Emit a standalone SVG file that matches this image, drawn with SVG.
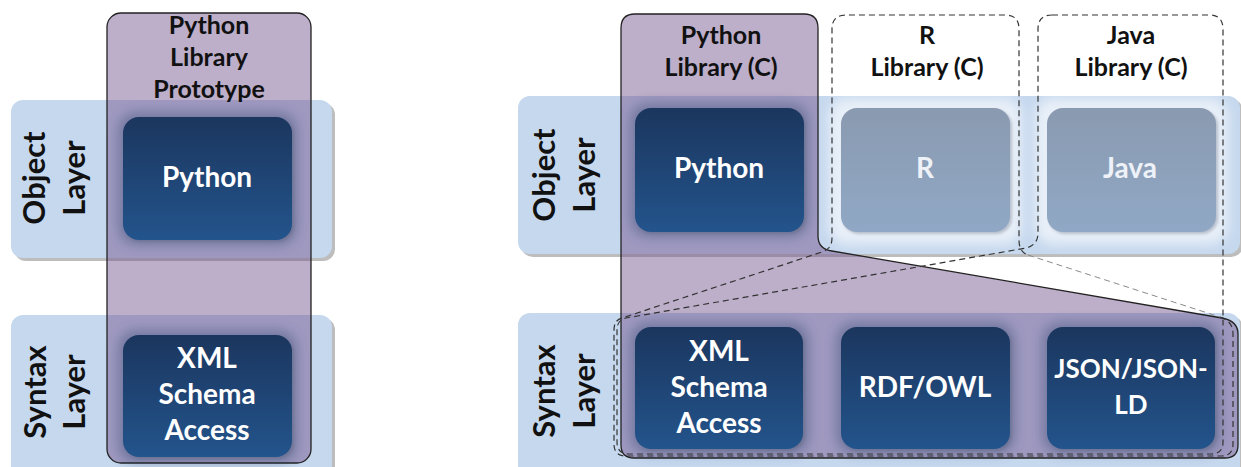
<svg xmlns="http://www.w3.org/2000/svg" width="1241" height="467" viewBox="0 0 1241 467">
<defs>
<linearGradient id="boxGrad" x1="0" y1="0" x2="0" y2="1">
<stop offset="0" stop-color="#1b365e"/>
<stop offset="1" stop-color="#23548c"/>
</linearGradient>
<linearGradient id="fadeGrad" x1="0" y1="0" x2="0" y2="1">
<stop offset="0" stop-color="#8a9ab0"/>
<stop offset="1" stop-color="#90a8c5"/>
</linearGradient>
<filter id="blur" x="-30%" y="-30%" width="160%" height="160%">
<feGaussianBlur stdDeviation="6"/>
</filter>
<filter id="blurS" x="-30%" y="-30%" width="160%" height="160%">
<feGaussianBlur stdDeviation="1.5"/>
</filter>
<style>
.band{fill:#c6d8ee}
.bandShadow{fill:#bdbdbd}
.purple{fill:rgb(114,82,141);fill-opacity:.47;stroke:#222;stroke-width:1.3}
.halo{fill:#1e3761;opacity:.33;filter:url(#blur)}
.glow{fill:#ffffff;opacity:.6;filter:url(#blur)}
.boxShadow{fill:#5a6478;opacity:.35;filter:url(#blurS)}
.box{fill:url(#boxGrad)}
.fbox{fill:url(#fadeGrad)}
.dash{fill:none;stroke:#333;stroke-width:1.2;stroke-dasharray:6 4}
.dashLight{fill:none;stroke:#8a8a8a;stroke-width:1;stroke-dasharray:6 4}
text{font-family:Lato,"Open Sans","Liberation Sans",sans-serif;font-weight:bold;text-anchor:middle}
.title{font-size:25px;fill:#111}
.layer{font-size:31px;fill:#111}
.lbl{font-size:28px;fill:#ffffff}
.flbl{font-size:28px;fill:#eef2f8}
.narrow{font-size:26px}
</style>
</defs>

<!-- LEFT DIAGRAM -->
<g id="left-object-layer">
<rect class="bandShadow" x="14" y="103" width="321" height="158" rx="12"/>
<rect class="band" x="11" y="100" width="321" height="158" rx="12"/>
<text class="layer" transform="translate(45,178) rotate(-90)">Object</text>
<text class="layer" transform="translate(85,178) rotate(-90)">Layer</text>
</g>
<g id="left-syntax-layer">
<rect class="bandShadow" x="14" y="318" width="321" height="170" rx="12"/>
<rect class="band" x="11" y="315" width="321" height="170" rx="12"/>
<text class="layer" transform="translate(46,392) rotate(-90)">Syntax</text>
<text class="layer" transform="translate(85,392) rotate(-90)">Layer</text>
</g>
<g id="left-python-library-prototype">
<rect class="purple" x="107" y="13" width="204" height="450" rx="14"/>
<text class="title" x="209" y="34">Python</text>
<text class="title" x="209" y="66">Library</text>
<text class="title" x="209" y="98">Prototype</text>
</g>
<g id="left-python">
<rect class="halo" x="118" y="112" width="179" height="133" rx="18"/>
<rect class="boxShadow" x="125" y="119" width="169" height="123" rx="16"/>
<rect class="box" x="123" y="117" width="169" height="123" rx="16"/>
<text class="lbl" x="207" y="187">Python</text>
</g>
<g id="left-xml">
<rect class="halo" x="118" y="330" width="179" height="133" rx="18"/>
<rect class="boxShadow" x="125" y="337" width="169" height="122" rx="16"/>
<rect class="box" x="123" y="335" width="169" height="122" rx="16"/>
<text class="lbl" x="207" y="368">XML</text>
<text class="lbl" x="207" y="404">Schema</text>
<text class="lbl" x="207" y="440">Access</text>
</g>

<!-- RIGHT DIAGRAM -->
<g id="right-object-layer">
<rect class="bandShadow" x="521" y="99" width="722" height="158" rx="12"/>
<rect class="band" x="518" y="96" width="722" height="158" rx="12"/>
<text class="layer" transform="translate(555,175) rotate(-90)">Object</text>
<text class="layer" transform="translate(595,175) rotate(-90)">Layer</text>
</g>
<g id="right-syntax-layer">
<rect class="bandShadow" x="521" y="316" width="722" height="170" rx="12"/>
<rect class="band" x="518" y="313" width="722" height="170" rx="12"/>
<text class="layer" transform="translate(555,391) rotate(-90)">Syntax</text>
<text class="layer" transform="translate(595,391) rotate(-90)">Layer</text>
</g>
<g id="right-python-library">
<path class="purple" d="M621 28 Q621 14 635 14 H804 Q818 14 818 28 V236 Q818 249 832 251 L1222 318 Q1238 321 1238 334 V445 Q1238 458 1225 458 H634 Q621 458 621 445 Z"/>
<text class="title" x="721" y="44">Python</text>
<text class="title" x="721" y="76">Library (C)</text>
</g>
<g id="right-python">
<rect class="halo" x="630" y="103" width="179" height="134" rx="18"/>
<rect class="boxShadow" x="637" y="110" width="169" height="124" rx="16"/>
<rect class="box" x="635" y="108" width="169" height="124" rx="16"/>
<text class="lbl" x="719" y="178">Python</text>
</g>
<g id="right-r">
<rect class="glow" x="829" y="98" width="193" height="146" rx="18"/>
<rect class="boxShadow" x="843" y="110" width="169" height="124" rx="16" opacity=".2"/>
<rect class="fbox" x="841" y="108" width="169" height="124" rx="16"/>
<text class="flbl" x="925" y="178">R</text>
</g>
<g id="right-java">
<rect class="glow" x="1035" y="98" width="193" height="146" rx="18"/>
<rect class="boxShadow" x="1049" y="110" width="169" height="124" rx="16" opacity=".2"/>
<rect class="fbox" x="1047" y="108" width="169" height="124" rx="16"/>
<text class="flbl" x="1130" y="178">Java</text>
</g>
<g id="right-xml">
<rect class="halo" x="630" y="322" width="179" height="132" rx="18"/>
<rect class="boxShadow" x="637" y="329" width="168" height="122" rx="16"/>
<rect class="box" x="635" y="327" width="168" height="122" rx="16"/>
<text class="lbl" x="719" y="361">XML</text>
<text class="lbl" x="719" y="397">Schema</text>
<text class="lbl" x="719" y="433">Access</text>
</g>
<g id="right-rdf">
<rect class="halo" x="836" y="322" width="179" height="132" rx="18"/>
<rect class="boxShadow" x="843" y="329" width="169" height="122" rx="16"/>
<rect class="box" x="841" y="327" width="169" height="122" rx="16"/>
<text class="lbl" x="925" y="397">RDF/OWL</text>
</g>
<g id="right-json">
<rect class="halo" x="1042" y="322" width="178" height="132" rx="18"/>
<rect class="boxShadow" x="1049" y="329" width="168" height="122" rx="16"/>
<rect class="box" x="1047" y="327" width="168" height="122" rx="16"/>
<text class="lbl narrow" x="1131" y="378">JSON/JSON-</text>
<text class="lbl narrow" x="1131" y="414">LD</text>
</g>
<g id="right-r-library">
<path class="dash" d="M1220 317 Q1233 321 1233 334 V444 Q1233 456 1221 456 H626 Q614 456 614 444 V330 Q614 320 622 318 L822 252 Q832 249 832 238 V29 Q832 15 846 15 H1005 Q1019 15 1019 29 V240 Q1019 252 1028 255"/>
<path class="dashLight" d="M1028 255 L1220 317"/>
<text class="title" x="927" y="44">R</text>
<text class="title" x="927" y="76">Library (C)</text>
</g>
<g id="right-java-library">
<path class="dash" d="M1052 15 H1209 Q1223 15 1223 29 V442 Q1223 454 1211 454 H629 Q617 454 617 442 V330 Q617 320 626 318 L1026 248 Q1038 245 1038 233 V29 Q1038 15 1052 15 Z"/>
<text class="title" x="1131" y="44">Java</text>
<text class="title" x="1131" y="76">Library (C)</text>
</g>
<g id="connectors"/>
</svg>
